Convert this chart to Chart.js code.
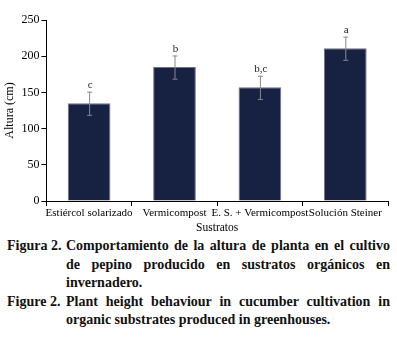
<!DOCTYPE html>
<html>
<head>
<meta charset="utf-8">
<script src="https://cdn.jsdelivr.net/npm/chart.js@4.4.0/dist/chart.umd.min.js"></script>
<style>
  body { margin: 0; background: #fff; width: 397px; height: 338px; overflow: hidden; }
  #wrap { position: relative; width: 397px; height: 237px; }
  .cap { font-family: "Liberation Serif", "Times New Roman", serif; font-weight: bold; font-size: 14px; color: #111; line-height: 18.6px; }
  .row { display: flex; }
  .lab { width: 59px; padding-left: 7px; flex: none; white-space: nowrap; }
  .txt { width: 324px; white-space: nowrap; }
  .j { text-align: justify; text-align-last: justify; }
</style>
</head>
<body>
<div id="wrap"><canvas id="grafica"></canvas></div>
<div class="cap">
  <div class="row"><div class="lab">Figura 2.</div>
    <div class="txt"><div class="j">Comportamiento de la altura de planta en el cultivo</div><div class="j">de pepino producido en sustratos orgánicos en</div><div>invernadero.</div></div></div>
  <div class="row"><div class="lab">Figure 2.</div>
    <div class="txt"><div class="j">Plant height behaviour in cucumber cultivation in</div><div>organic substrates produced in greenhouses.</div></div></div>
</div>
<script>
const sustratos = ['Estiércol solarizado', 'Vermicompost', 'E. S. + Vermicompost', 'Solución Steiner'];
const altura = [135, 185, 157, 211];
const errorAltura = [16, 16, 16, 16];
const letras = ['c', 'b', 'b,c', 'a'];
const yTicks = [0, 50, 100, 150, 200, 250];

const serif = 'Liberation Serif, Times New Roman, serif';

// barras de error y letras de significancia
const errorBars = {
  id: 'errorBars',
  afterDatasetsDraw(chart) {
    const { ctx, scales: { x, y } } = chart;
    ctx.save();
    altura.forEach((v, i) => {
      const px = x.getPixelForValue(i);
      const top = y.getPixelForValue(v + errorAltura[i]);
      const bot = y.getPixelForValue(v - errorAltura[i]);
      ctx.strokeStyle = '#8a8a8a';
      ctx.lineWidth = 1;
      ctx.beginPath();
      ctx.moveTo(px + 0.5, top); ctx.lineTo(px + 0.5, bot);
      ctx.moveTo(px - 2, top + 0.5); ctx.lineTo(px + 3, top + 0.5);
      ctx.moveTo(px - 2, bot + 0.5); ctx.lineTo(px + 3, bot + 0.5);
      ctx.stroke();
      ctx.fillStyle = '#2a1520';
      ctx.font = '11px ' + serif;
      ctx.textAlign = 'center';
      ctx.textBaseline = 'bottom';
      ctx.fillText(letras[i], px + 1, top - 1);
    });
    ctx.restore();
  }
};

new Chart(document.getElementById('grafica'), {
  type: 'bar',
  data: {
    labels: sustratos,
    datasets: [{
      data: altura,
      backgroundColor: '#172243',
      borderColor: '#6f7385',
      borderWidth: { left: 1, right: 1, top: 1, bottom: 0 },
      categoryPercentage: 1,
      barPercentage: 0.5
    }]
  },
  options: {
    responsive: true,
    maintainAspectRatio: false,
    animation: false,
    layout: { padding: { top: 20, right: 9, left: 3, bottom: 2 } },
    plugins: {
      legend: { display: false },
      tooltip: { enabled: false }
    },
    scales: {
      x: {
        grid: { display: true, drawOnChartArea: false, offset: true, tickLength: 5, color: '#000' },
        border: { color: '#000', width: 1 },
        ticks: { color: '#000', font: { family: serif, size: 11 }, maxRotation: 0, autoSkip: false, padding: 1 },
        title: { display: true, text: 'Sustratos', color: '#000', font: { family: serif, size: 11.5 }, padding: { top: 0, bottom: 0 } }
      },
      y: {
        min: 0,
        max: 250,
        afterBuildTicks: (axis) => { axis.ticks = yTicks.map(v => ({ value: v })); },
        grid: { display: true, drawOnChartArea: false, tickLength: 5, color: '#000' },
        border: { color: '#000', width: 1 },
        ticks: { color: '#000', font: { family: serif, size: 12 }, padding: 2 },
        title: { display: true, text: 'Altura (cm)', color: '#000', font: { family: serif, size: 12 }, padding: { top: 0, bottom: 2 } }
      }
    }
  },
  plugins: [errorBars]
});
</script>
</body>
</html>
